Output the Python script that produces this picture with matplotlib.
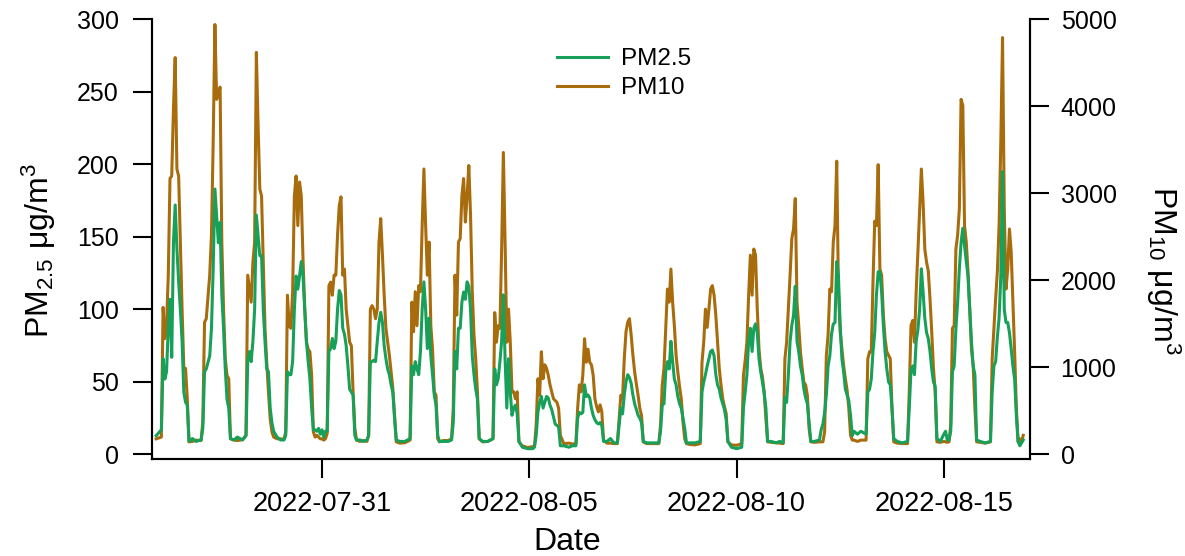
import pandas as pd
import matplotlib
matplotlib.use('Agg')
import matplotlib.pyplot as plt
import matplotlib.dates as mdates

plt.rcParams['font.family'] = ['Liberation Sans', 'DejaVu Sans']
plt.rcParams['mathtext.fontset'] = 'custom'
plt.rcParams['mathtext.rm'] = 'Liberation Sans'
plt.rcParams['mathtext.it'] = 'Liberation Sans:italic'

# hours since 2022-07-27 00:00, one block per day (peak + night low)
hours = [0, 3, 4, 5, 6, 7, 8, 9, 10, 11, 12, 13, 14, 15, 16, 17, 18, 19, 21, 23, 26,
         27, 28, 29, 31, 32, 33, 34, 35, 36, 37, 38, 39, 40, 41, 42, 43, 45, 47, 50,
         52, 53, 54, 55, 56, 57, 58, 59, 60, 61, 62, 63, 64, 65, 66, 67, 68, 70, 72, 74,
         75, 76, 77, 78, 79, 80, 81, 82, 83, 84, 85, 86, 87, 88, 89, 90, 91, 92, 93, 94, 95, 96, 97, 98,
         99, 100, 101, 102, 103, 104, 105, 106, 107, 108, 109, 110, 111, 112, 113, 114, 115, 116, 118, 120, 122,
         123, 124, 125, 126, 127, 128, 129, 130, 131, 132, 133, 134, 135, 136, 137, 138, 139, 141, 144,
         147, 148, 149, 150, 151, 152, 153, 154, 155, 156, 157, 158, 159, 160, 161, 162, 163, 164, 166, 169,
         171, 172, 173, 174, 175, 176, 177, 178, 179, 180, 181, 182, 183, 184, 185, 186, 187, 189, 192,
         195, 196, 197, 198, 199, 200, 201, 202, 203, 204, 205, 206, 207, 208, 209, 210, 212, 215, 218,
         219, 220, 221, 222, 223, 224, 225, 226, 227, 228, 229, 230, 231, 232, 233, 234, 236, 239, 241,
         243, 244, 245, 246, 247, 248, 249, 250, 251, 252, 253, 254, 255, 256, 257, 258, 259, 261, 263, 265,
         267, 268, 269, 270, 271, 272, 273, 274, 275, 276, 277, 278, 279, 280, 281, 282, 284, 287, 289,
         291, 292, 293, 294, 295, 296, 297, 298, 299, 300, 301, 302, 303, 304, 305, 306, 307, 309, 312,
         315, 316, 317, 318, 319, 320, 321, 322, 323, 324, 325, 326, 327, 328, 329, 330, 331, 333, 336,
         339, 340, 341, 342, 343, 344, 345, 346, 347, 348, 349, 350, 351, 352, 353, 354, 356, 359, 361,
         363, 364, 365, 366, 367, 368, 369, 370, 371, 372, 373, 374, 375, 376, 377, 378, 379, 381,
         384, 385, 386, 387, 388, 389, 390, 391, 392, 393, 394, 395, 396, 397, 398, 399, 400, 401, 402, 403, 404, 406, 408,
         411, 412, 413, 414, 415, 416, 417, 418, 419, 420, 421, 422, 423, 424, 425, 426, 427, 429, 432,
         435, 436, 437, 438, 439, 440, 441, 442, 443, 444, 445, 446, 447, 448, 449, 450, 451, 452, 454, 456, 457, 458,
         459, 460, 461, 462, 463, 464, 465, 466, 467, 468, 469, 470, 471, 472, 473, 474, 475, 477, 480,
         483, 484, 485, 486, 487, 488, 489, 490, 491, 492, 493, 494, 495, 496, 497, 498, 499, 500, 501, 502]

pm25 = [13, 17, 66, 52, 57, 87, 107, 67, 146, 172, 142, 119, 100, 78, 43, 36, 34, 9, 11, 9, 10,
        18, 57, 59, 68, 87, 128, 183, 165, 146, 160, 110, 87, 59, 38, 32, 11, 10, 12, 10,
        13, 64, 71, 64, 78, 100, 165, 151, 137, 137, 100, 78, 59, 57, 32, 22, 16, 12, 10, 10,
        13, 57, 55, 55, 64, 100, 123, 114, 123, 133, 123, 100, 78, 64, 52, 32, 17, 17, 16, 18, 14, 17, 12, 16,
        16, 71, 73, 80, 73, 78, 100, 113, 110, 87, 83, 75, 61, 45, 43, 41, 13, 10, 10, 9, 10,
        13, 64, 64, 65, 64, 78, 91, 98, 91, 75, 66, 59, 55, 48, 43, 25, 10, 9, 9,
        11, 61, 55, 64, 59, 55, 71, 100, 119, 100, 73, 94, 68, 55, 41, 34, 13, 9, 9, 9,
        10, 22, 71, 59, 87, 87, 105, 112, 107, 119, 116, 100, 68, 55, 45, 38, 11, 9, 9,
        11, 59, 48, 52, 64, 78, 110, 66, 32, 66, 43, 27, 32, 34, 28, 9, 5, 4, 4,
        5, 13, 29, 36, 40, 32, 36, 40, 39, 34, 31, 26, 21, 20, 19, 6, 6, 5, 6,
        6, 25, 29, 28, 29, 48, 40, 41, 39, 32, 27, 24, 22, 21, 22, 20, 9, 9, 11, 8,
        8, 20, 32, 28, 41, 50, 55, 53, 49, 41, 35, 31, 27, 25, 22, 9, 8, 8, 8,
        8, 16, 34, 35, 57, 64, 59, 78, 64, 52, 48, 40, 35, 32, 25, 18, 8, 8, 8,
        9, 43, 50, 55, 61, 66, 71, 72, 68, 55, 48, 45, 39, 35, 31, 24, 9, 5, 4,
        5, 32, 43, 55, 78, 87, 71, 87, 90, 84, 66, 57, 50, 42, 32, 9, 9, 8, 9,
        8, 39, 36, 55, 78, 89, 96, 116, 78, 71, 61, 55, 45, 39, 35, 22, 9, 9,
        10, 17, 21, 29, 41, 61, 68, 83, 90, 91, 133, 123, 89, 66, 57, 45, 41, 37, 27, 13, 16, 14, 16,
        14, 43, 45, 52, 71, 84, 110, 126, 126, 112, 89, 71, 59, 50, 48, 32, 11, 9, 8,
        9, 32, 58, 61, 55, 78, 86, 100, 128, 112, 94, 84, 80, 71, 59, 50, 47, 11, 9, 14, 16, 10,
        10, 16, 57, 61, 87, 105, 128, 146, 156, 144, 133, 123, 100, 78, 61, 55, 10, 9, 8,
        9, 43, 61, 64, 81, 94, 123, 195, 100, 91, 91, 84, 73, 61, 52, 27, 9, 6, 8, 10]

pm10 = [180, 200, 1690, 1330, 1480, 2060, 3170, 3200, 3970, 4560, 3280, 3200, 2440, 1670, 990, 990, 640, 145, 150, 165, 160,
        375, 1520, 1560, 2060, 2520, 3590, 4940, 4080, 4160, 4220, 2440, 1670, 1100, 910, 870, 180, 165, 160, 170,
        220, 2060, 1900, 1750, 2210, 2440, 4620, 3780, 3050, 2970, 2210, 1450, 1060, 720, 410, 260, 200, 180, 180, 175,
        260, 1830, 1480, 1450, 1870, 2970, 3200, 2630, 3130, 2970, 2250, 1670, 1290, 1210, 1180, 910, 260, 200, 220, 200, 180, 180, 165, 180,
        240, 1940, 1980, 1830, 2060, 2060, 2520, 2860, 2960, 2060, 2130, 1670, 1480, 1290, 1250, 720, 300, 165, 150, 160, 150,
        220, 1670, 1710, 1670, 1560, 1670, 2440, 2710, 2290, 1830, 1450, 1290, 1140, 950, 760, 450, 145, 130, 135,
        165, 1750, 1410, 1870, 1480, 1940, 1870, 2630, 3280, 2630, 2060, 2440, 1480, 1210, 720, 680, 180, 145, 160, 160,
        180, 530, 2060, 1600, 2440, 2480, 2970, 3170, 2670, 2970, 3320, 2750, 1870, 1370, 1100, 720, 180, 145, 150,
        180, 1630, 1290, 1480, 1450, 2350, 3470, 2440, 1290, 1670, 1290, 720, 720, 640, 720, 145, 100, 80, 90,
        90, 340, 870, 680, 1180, 870, 1030, 990, 910, 800, 720, 640, 620, 600, 530, 220, 125, 130, 120,
        125, 530, 800, 720, 910, 1330, 1060, 1210, 1060, 1030, 910, 640, 550, 490, 570, 490, 165, 130, 130, 125,
        125, 410, 680, 640, 1100, 1410, 1520, 1560, 1370, 1140, 950, 810, 680, 530, 450, 145, 125, 125, 125,
        125, 340, 800, 990, 1450, 1900, 1750, 2130, 1750, 1480, 1140, 950, 780, 640, 370, 180, 125, 115, 110,
        125, 1060, 1290, 1670, 1460, 1670, 1900, 1940, 1830, 1600, 1290, 990, 800, 640, 550, 470, 145, 110, 105,
        125, 910, 1080, 1290, 1830, 2290, 1830, 2360, 2290, 1670, 1210, 990, 890, 720, 410, 145, 140, 135, 130,
        125, 1100, 1290, 1670, 2060, 2480, 2590, 2940, 1750, 1480, 1180, 990, 830, 800, 680, 300, 145, 140,
        145, 145, 145, 260, 1140, 1370, 1900, 1870, 2440, 2630, 3370, 1870, 1410, 1210, 1020, 870, 740, 530, 220, 165, 165, 150, 165,
        165, 1100, 1180, 1180, 1980, 2680, 2630, 3330, 2130, 2060, 1600, 1330, 1180, 1140, 1100, 530, 145, 130, 125,
        125, 720, 1480, 1540, 1290, 1870, 2330, 2820, 3280, 2900, 2360, 2210, 2110, 1790, 1410, 990, 720, 145, 140, 150, 145, 140,
        145, 340, 1450, 1480, 2360, 2520, 2820, 4080, 4010, 2630, 2440, 2100, 1670, 1210, 1020, 530, 145, 140, 130,
        145, 1100, 1450, 1790, 2100, 2630, 3590, 4790, 2820, 1900, 2130, 2590, 2330, 1750, 1180, 530, 145, 180, 145, 220]

tick_dates = ['2022-07-31', '2022-08-05', '2022-08-10', '2022-08-15']

times = pd.Timestamp('2022-07-27') + pd.to_timedelta(hours, unit='h')

green = '#17a05a'
brown = '#a86c0c'

fig = plt.figure(figsize=(11.85, 5.56), dpi=100)
ax = fig.add_axes([0.1283, 0.1745, 0.7409, 0.7908])
ax2 = ax.twinx()

l1, = ax.plot(times, pm25, color=green, lw=2.2, label='PM2.5')
l2, = ax2.plot(times, pm10, color=brown, lw=2.2, label='PM10')
ax.set_zorder(ax2.get_zorder() + 1)
ax.patch.set_visible(False)

ax.set_xlim(pd.Timestamp('2022-07-26 21:36'), pd.Timestamp('2022-08-17 01:54'))
ax.set_ylim(-3.1, 300)
ax2.set_ylim(-51.7, 5000)
ax.set_yticks(range(0, 301, 50))
ax2.set_yticks(range(0, 5001, 1000))
ax.set_xticks(pd.to_datetime(tick_dates))
ax.xaxis.set_major_formatter(mdates.DateFormatter('%Y-%m-%d'))

for a in (ax, ax2):
    a.spines['top'].set_visible(False)
    for s in ('left', 'right', 'bottom'):
        a.spines[s].set_linewidth(1.5)
ax.tick_params(axis='y', direction='out', length=14, width=1.5, labelsize=18, pad=10)
ax.tick_params(axis='x', direction='out', length=14, width=1.5, labelsize=19.5, pad=9)
ax2.tick_params(axis='y', direction='out', length=14, width=1.5, labelsize=18, pad=8)

ax.set_xlabel('Date', fontsize=23)
ax.xaxis.set_label_coords(0.473, -0.155)
ax.set_ylabel(r'PM$_{\mathrm{2.5}}$ μg/m$^{\mathrm{3}}$', fontsize=23)
ax.yaxis.set_label_coords(-0.107, 0.473)
ax2.set_ylabel(r'PM$_{\mathrm{10}}$ μg/m$^{\mathrm{3}}$', fontsize=23, rotation=270)
ax2.yaxis.set_label_coords(1.173, 0.43)

ax.legend([l1, l2], ['PM2.5', 'PM10'], loc='upper left', frameon=False, fontsize=17.5,
          bbox_to_anchor=(557 / 1185, 1 - 48 / 556), bbox_transform=fig.transFigure,
          borderpad=0, borderaxespad=0, handlelength=2.1, handletextpad=0.55, labelspacing=0.3)

fig.savefig('out.png', dpi=100)
